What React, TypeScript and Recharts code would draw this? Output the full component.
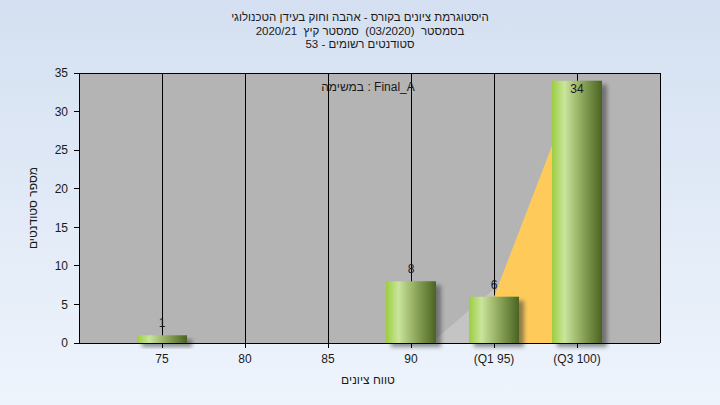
import React from "react";
import {
  ComposedChart,
  Bar,
  Area,
  XAxis,
  YAxis,
  CartesianGrid,
  LabelList,
} from "recharts";

const xValues = [75, 80, 85, 90, 95, 100];
const counts = [1, 0, 0, 8, 6, 34];
const tickLabels = ["75", "80", "85", "90", "(Q1 95)", "(Q3 100)"];
const yTicks = [0, 5, 10, 15, 20, 25, 30, 35];
const lowerAreaX = [91.2, 95];
const lowerAreaY = [0, 7];
const quartileAreaX = [95, 100];
const quartileAreaY = [6, 34];

const titleLines = [
  "היסטוגרמת ציונים בקורס - אהבה וחוק בעידן הטכנולוגי",
  "בסמסטר  (03/2020)  סמסטר קיץ  2020/21",
  "סטודנטים רשומים - 53",
];
const yTitle = "מספר סטודנטים";
const xTitle = "טווח ציונים";
const annotation = "במשימה : Final_A";

const barData = xValues.map((x, i) => ({ x, count: counts[i] }));
const lowerArea = lowerAreaX.map((x, i) => ({ x, v: lowerAreaY[i] }));
const quartileArea = quartileAreaX.map((x, i) => ({ x, v: quartileAreaY[i] }));
const labelMap: Record<number, string> = {};
xValues.forEach((x, i) => (labelMap[x] = tickLabels[i]));

const FONT = "'Liberation Sans', Arial, sans-serif";
const BAR_W = 50;

const BarShape = (props: any) => {
  const { x, y, width, height } = props;
  if (!height || height <= 0) return null;
  const left = x + width / 2 - BAR_W / 2;
  return (
    <g>
      <rect
        x={left + 5}
        y={y + 4}
        width={BAR_W}
        height={height}
        fill="#3a3a3a"
        opacity={0.55}
        filter="url(#shadowBlur)"
      />
      <rect x={left} y={y} width={BAR_W} height={height} fill="url(#barGrad)" />
    </g>
  );
};

const ValueLabel = (props: any) => {
  const { x, y, width, value } = props;
  if (!value) return null;
  const inside = y - 16 < 73;
  const ty = inside ? y + 12 : y - 8;
  return (
    <text
      x={x + width / 2}
      y={ty}
      textAnchor="middle"
      fontSize={12}
      fontFamily={FONT}
      fill="#1a1a1a"
    >
      {value}
    </text>
  );
};

export default function App() {
  return (
    <div
      style={{
        position: "absolute",
        left: 0,
        top: 0,
        width: 720,
        height: 405,
        background: "linear-gradient(to bottom, #d4e0f1, #eef4fc)",
        fontFamily: FONT,
        overflow: "hidden",
      }}
    >
      <style>{`.recharts-cartesian-grid line, .recharts-cartesian-axis-line, .recharts-cartesian-axis-tick-line { shape-rendering: crispEdges; }`}</style>
      <div
        dir="rtl"
        style={{
          position: "absolute",
          left: 0,
          top: 11,
          width: 720,
          textAlign: "center",
          fontSize: 11.5,
          lineHeight: "13.5px",
          color: "#1a1a1a",
        }}
      >
        {titleLines.map((t, i) => (
          <div key={i} style={{ whiteSpace: "pre" }}>
            {t}
          </div>
        ))}
      </div>
      <ComposedChart
        width={720}
        height={405}
        data={barData}
        margin={{ top: 73, right: 0, bottom: 0, left: 0 }}
      >
        <defs>
          <linearGradient id="barGrad" x1="0" y1="0" x2="1" y2="0">
            <stop offset="0%" stopColor="#9ccd40" />
            <stop offset="25%" stopColor="#c9e59c" />
            <stop offset="60%" stopColor="#8ea75b" />
            <stop offset="100%" stopColor="#4a6322" />
          </linearGradient>
          <filter id="shadowBlur" x="-20%" y="-20%" width="140%" height="140%">
            <feGaussianBlur stdDeviation="2" />
          </filter>
        </defs>
        <CartesianGrid
          stroke="#000"
          strokeWidth={1}
          fill="#b4b4b4"
          fillOpacity={1}
        />
        <XAxis
          dataKey="x"
          type="number"
          domain={[70, 105]}
          ticks={xValues}
          allowDataOverflow
          height={62}
          tickSize={5}
          tickMargin={6}
          tickFormatter={(v: number) => labelMap[v] ?? String(v)}
          tick={{ fontSize: 12, fill: "#1a1a1a", fontFamily: FONT }}
          axisLine={{ stroke: "#000" }}
          tickLine={{ stroke: "#000" }}
        />
        <YAxis
          yAxisId="left"
          orientation="left"
          domain={[0, 35]}
          ticks={yTicks}
          width={79}
          tickSize={5}
          tickMargin={6}
          tick={{ fontSize: 12, fill: "#1a1a1a", fontFamily: FONT }}
          axisLine={{ stroke: "#000" }}
          tickLine={{ stroke: "#000" }}
        />
        <YAxis
          yAxisId="right"
          orientation="right"
          domain={[0, 35]}
          ticks={yTicks}
          width={60}
          tickSize={5}
          tickMargin={4}
          tick={{ fontSize: 12, fill: "#1a1a1a", fontFamily: FONT }}
          axisLine={{ stroke: "#000" }}
          tickLine={{ stroke: "#000" }}
        />
        <Area
          yAxisId="left"
          data={lowerArea}
          dataKey="v"
          type="linear"
          stroke="none"
          fill="#c4c4c4"
          fillOpacity={1}
          dot={false}
          activeDot={false}
          isAnimationActive={false}
        />
        <Area
          yAxisId="left"
          data={quartileArea}
          dataKey="v"
          type="linear"
          stroke="none"
          fill="#fecb5b"
          fillOpacity={1}
          dot={false}
          activeDot={false}
          isAnimationActive={false}
        />
        <Bar
          yAxisId="left"
          dataKey="count"
          barSize={50}
          shape={BarShape}
          isAnimationActive={false}
        >
          <LabelList dataKey="count" content={ValueLabel} />
        </Bar>
      </ComposedChart>
      <div
        style={{
          position: "absolute",
          left: 268,
          top: 80,
          width: 200,
          textAlign: "center",
          fontSize: 12,
          color: "#1a1a1a",
          direction: "ltr",
        }}
      >
        {annotation}
      </div>
      <div
        dir="rtl"
        style={{
          position: "absolute",
          left: 268,
          top: 373,
          width: 200,
          textAlign: "center",
          fontSize: 12,
          color: "#1a1a1a",
        }}
      >
        {xTitle}
      </div>
      <div
        dir="rtl"
        style={{
          position: "absolute",
          left: 33 - 60,
          top: 208 - 8,
          width: 120,
          textAlign: "center",
          fontSize: 12,
          lineHeight: "16px",
          color: "#1a1a1a",
          transform: "rotate(-90deg)",
          transformOrigin: "60px 8px",
        }}
      >
        {yTitle}
      </div>
    </div>
  );
}
